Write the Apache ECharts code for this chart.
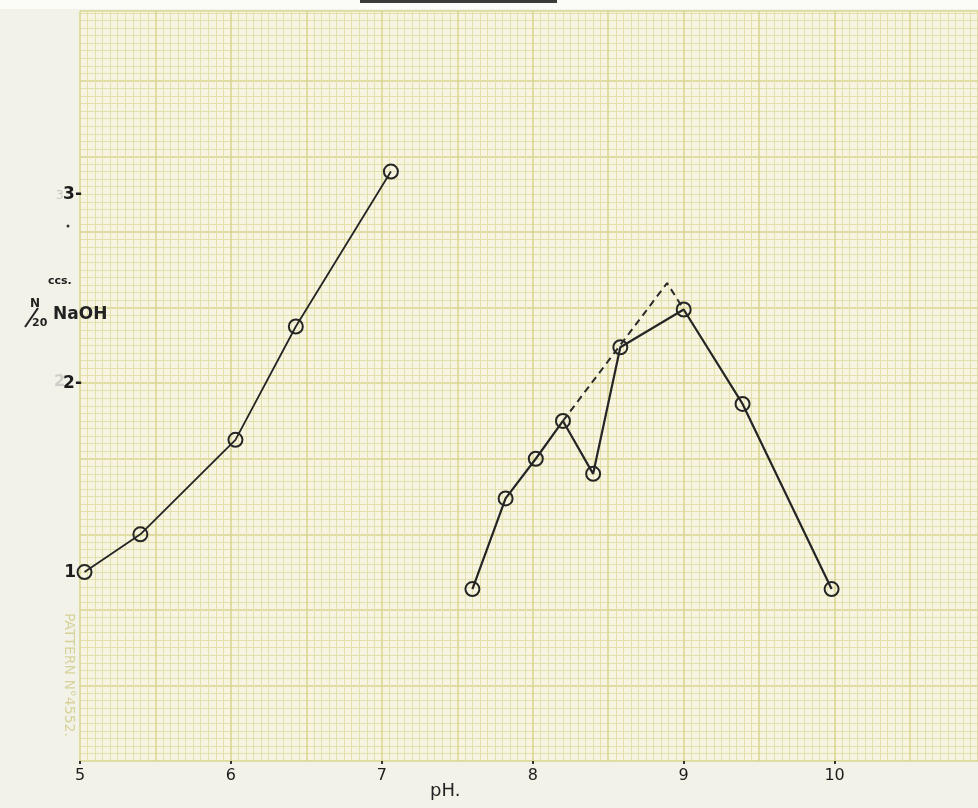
<!DOCTYPE html>
<html>
<head>
<meta charset="utf-8">
<script src="https://cdn.jsdelivr.net/npm/echarts@6/dist/echarts.min.js"></script>
<style>
html,body{margin:0;padding:0;background:#f3f2e8;}
#chart{width:978px;height:808px;}
</style>
</head>
<body>
<div id="chart"></div>
<script>
// pH (x) vs ccs. N/20 NaOH (y)
const phA = [5.03, 5.4, 6.03, 6.43, 7.06];
const naohA = [1.0, 1.2, 1.7, 2.3, 3.12];
const phB = [7.6, 7.82, 8.02, 8.2, 8.4, 8.58, 9.0, 9.39, 9.98];
const naohB = [0.91, 1.39, 1.6, 1.8, 1.52, 2.19, 2.39, 1.89, 0.91];
const phDash = [8.2, 8.89, 9.0];
const naohDash = [1.8, 2.53, 2.39];
const xTickLabels = ['5', '6', '7', '8', '9', '10'];
const yTickLabels = {1: '1 ', 2: '2-', 3: '3-'};

const zip = (xs, ys) => xs.map((x, i) => [x, ys[i]]);
const ink = '#252525';
const fine = '#e3e0ab';
const heavy = '#d8d48f';

const chart = echarts.init(document.getElementById('chart'));
chart.setOption({
  backgroundColor: '#f3f2e8',
  animation: false,
  grid: {left: 80, top: 11, width: 898, height: 750, show: true, backgroundColor: '#f7f5e2', borderWidth: 0},
  xAxis: [
    {type: 'value', position: 'bottom', min: 5, max: 10.95, interval: 0.5,
     axisLine: {show: false}, axisTick: {show: false}, axisLabel: {show: false},
     splitLine: {show: true, lineStyle: {color: heavy, width: 1.5}},
     minorTick: {show: false, splitNumber: 10},
     minorSplitLine: {show: true, lineStyle: {color: fine, width: 1}}},
    {type: 'value', position: 'bottom', min: 5, max: 10.95, interval: 1,
     axisLine: {show: false}, splitLine: {show: false},
     axisTick: {show: true, length: 3, lineStyle: {color: '#333', width: 2}},
     axisLabel: {show: true, margin: 7, showMaxLabel: false,
       fontFamily: 'DejaVu Sans', fontSize: 16, color: '#1c1c1c',
       formatter: v => xTickLabels[Math.round(v - 5)] || ''}}
  ],
  yAxis: [
    {type: 'value', position: 'left', min: 0, max: 3.97, interval: 0.4,
     axisLine: {show: false}, axisTick: {show: false}, axisLabel: {show: false},
     splitLine: {show: true, lineStyle: {color: heavy, width: 1.5}},
     minorTick: {show: false, splitNumber: 10},
     minorSplitLine: {show: true, lineStyle: {color: fine, width: 1}}},
    {type: 'value', position: 'left', min: 0, max: 3.97, interval: 1,
     axisLine: {show: false}, axisTick: {show: false}, splitLine: {show: false},
     axisLabel: {show: true, margin: -2, showMaxLabel: false,
       fontFamily: 'DejaVu Sans', fontWeight: 'bold', fontSize: 17, color: '#1c1c1c',
       formatter: v => yTickLabels[v] || ''}}
  ],
  series: [
    {type: 'line', xAxisIndex: 0, yAxisIndex: 0, data: zip(phDash, naohDash),
     showSymbol: false, symbol: 'none', z: 2,
     lineStyle: {color: '#2a2a2a', width: 2, type: [7, 5]}},
    {type: 'line', xAxisIndex: 0, yAxisIndex: 0, data: zip(phA, naohA),
     symbol: 'circle', symbolSize: 14, z: 3,
     lineStyle: {color: ink, width: 1.8},
     itemStyle: {color: 'rgba(0,0,0,0)', borderColor: ink, borderWidth: 2}},
    {type: 'line', xAxisIndex: 0, yAxisIndex: 0, data: zip(phB, naohB),
     symbol: 'circle', symbolSize: 14, z: 3,
     lineStyle: {color: ink, width: 2.2},
     itemStyle: {color: 'rgba(0,0,0,0)', borderColor: ink, borderWidth: 2}}
  ],
  graphic: [
    {type: 'rect', left: 0, top: 0, z: -1, shape: {width: 978, height: 9}, style: {fill: '#fbfbf8'}},
    {type: 'rect', left: 360, top: 0, z: 100, shape: {width: 197, height: 3}, style: {fill: '#3a3a38'}},
    {type: 'text', left: 48, top: 276, z: 100, style: {text: 'ccs.', font: 'bold 11px DejaVu Sans', fill: '#222'}},
    {type: 'text', left: 30, top: 298, z: 100, style: {text: 'N', font: 'bold 12px DejaVu Sans', fill: '#222'}},
    {type: 'line', z: 100, shape: {x1: 25, y1: 327, x2: 38, y2: 308}, style: {stroke: '#222', lineWidth: 2}},
    {type: 'text', left: 32, top: 318, z: 100, style: {text: '20', font: 'bold 11px DejaVu Sans', fill: '#222'}},
    {type: 'text', left: 53, top: 306, z: 100, style: {text: 'NaOH', font: 'bold 17px DejaVu Sans', fill: '#222'}},
    {type: 'text', left: 430, top: 782, z: 100, style: {text: 'pH.', font: '18px DejaVu Sans', fill: '#222'}},
    {type: 'text', left: 56, top: 190, z: 100, style: {text: '3', font: '12px DejaVu Sans', fill: '#c8c6c0'}},
    {type: 'text', left: 54, top: 374, z: 100, style: {text: '2', font: 'bold 16px DejaVu Sans', fill: '#d0cec8'}},
    {type: 'circle', z: 100, shape: {cx: 68, cy: 226, r: 1.5}, style: {fill: '#333'}},
    {type: 'text', x: 76, y: 613, z: 100, rotation: -Math.PI / 2,
     style: {text: 'PATTERN N°4552.', font: '14px DejaVu Sans', fill: '#d6d29a'}}
  ]
});
</script>
</body>
</html>
